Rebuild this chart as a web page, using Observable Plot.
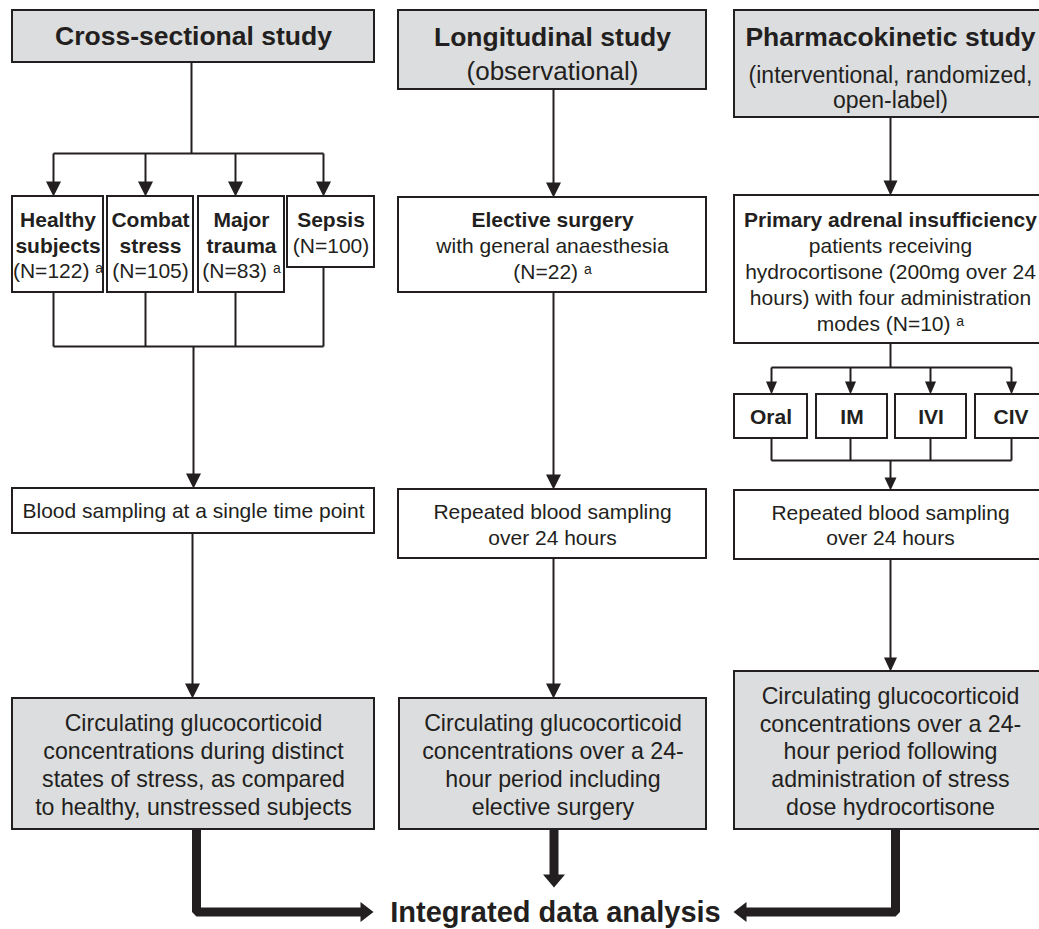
<!DOCTYPE html>
<html><head><meta charset="utf-8">
<script src="https://cdn.jsdelivr.net/npm/d3@7"></script>
<script src="https://cdn.jsdelivr.net/npm/@observablehq/plot@0.6"></script>
<style>body{margin:0;background:#fff}</style>
</head><body><div id="chart"></div>
<script>
// ---------------- content ----------------
const studyTitles = ["Cross-sectional study", "Longitudinal study", "Pharmacokinetic study"];
const studySubtitles = [[], ["(observational)"], ["(interventional, randomized,", "open-label)"]];
const crossGroupNames = [["Healthy", "subjects"], ["Combat", "stress"], ["Major", "trauma"], ["Sepsis"]];
const crossGroupN = [122, 105, 83, 100];
const crossGroupNote = ["a", "", "a", ""];
const electiveTitle = "Elective surgery";
const electiveLines = ["with general anaesthesia"];
const electiveN = 22;
const electiveNote = "a";
const paiTitle = "Primary adrenal insufficiency";
const paiLines = ["patients receiving", "hydrocortisone (200mg over 24", "hours) with four administration"];
const paiLast = "modes (N=10)";
const paiNote = "a";
const adminModes = ["Oral", "IM", "IVI", "CIV"];
const samplingText = [
  ["Blood sampling at a single time point"],
  ["Repeated blood sampling", "over 24 hours"],
  ["Repeated blood sampling", "over 24 hours"]
];
const outcomeText = [
  ["Circulating glucocorticoid", "concentrations during distinct", "states of stress, as compared", "to healthy, unstressed subjects"],
  ["Circulating glucocorticoid", "concentrations over a 24-", "hour period including", "elective surgery"],
  ["Circulating glucocorticoid", "concentrations over a 24-", "hour period following", "administration of stress", "dose hydrocortisone"]
];
const finalLabel = "Integrated data analysis";

// ---------------- layout ----------------
const FONT = "'Liberation Sans', Arial, Helvetica, sans-serif";
const INK = "#231f20";
const GREY = "#dcddde";
const W = 1039, H = 929;

const layout = {
  study: [[12, 10, 374, 62], [398, 10, 706, 89], [734, 10, 1046, 117]],
  studyY: [[36], [37.5, 71], [37, 75, 100]],
  studySubSize: [24, 26, 23],
  group: [[12, 196, 103, 292], [107, 196, 193, 292], [198, 196, 284, 292], [287, 196, 374, 267]],
  groupY: [220, 246, 271],
  elective: [398, 197, 706, 292], electiveY: [220, 246, 272],
  pai: [734, 195, 1046, 343], paiY: [220, 246, 272, 298, 324],
  mode: [[734, 394, 807, 438], [816, 394, 887, 438], [895, 394, 966, 438], [975, 394, 1046, 438]], modeY: 417,
  sampling: [[12, 488, 374, 533], [398, 489, 706, 558], [734, 490, 1046, 559]],
  samplingY: [[510.5], [512, 538], [513, 538]],
  outcome: [[12, 698, 374, 829], [399, 698, 706, 829], [734, 671, 1046, 829]],
  outcomeY: [[723, 751, 779, 807], [723, 751, 779, 807], [696, 724, 751, 779, 807]],
  final: [555, 912]
};
const SIZE = {title: 26.5, body: 21, outcome: 23.2, sup: 14, final: 29};

// ---------------- build ----------------
const ctx = document.createElement("canvas").getContext("2d");
function measure(t, size, weight) { ctx.font = `${weight} ${size}px ${FONT}`; return ctx.measureText(t).width; }

const greyBoxes = [], whiteBoxes = [];
const rows = []; // text rows
const cx = r => (r[0] + r[2]) / 2;
function box(r, grey) { (grey ? greyBoxes : whiteBoxes).push({x1: r[0], y1: r[1], x2: r[2], y2: r[3]}); }
function line(x, y, text, size, weight, note) {
  if (!note) { rows.push({x, y, text, size, weight, anchor: "middle"}); return; }
  const w1 = measure(text + " ", size, weight), w2 = measure(note, SIZE.sup, "normal");
  const start = x - (w1 + w2) / 2;
  rows.push({x: start, y, text, size, weight, anchor: "start"});
  rows.push({x: start + w1, y: y + 0.32 * size - 5.5 - 0.32 * SIZE.sup, text: note, size: SIZE.sup, weight: "normal", anchor: "start"});
}

studyTitles.forEach((t, i) => {
  const r = layout.study[i]; box(r, true);
  line(cx(r), layout.studyY[i][0], t, SIZE.title, "bold");
  studySubtitles[i].forEach((s, j) => line(cx(r), layout.studyY[i][j + 1], s, layout.studySubSize[i], "normal"));
});
crossGroupNames.forEach((names, i) => {
  const r = layout.group[i]; box(r, false);
  names.forEach((n, j) => line(cx(r), layout.groupY[j], n, SIZE.body, "bold"));
  line(cx(r), layout.groupY[names.length], `(N=${crossGroupN[i]})`, SIZE.body, "normal", crossGroupNote[i]);
});
{
  const r = layout.elective; box(r, false);
  line(cx(r), layout.electiveY[0], electiveTitle, SIZE.body, "bold");
  electiveLines.forEach((s, j) => line(cx(r), layout.electiveY[j + 1], s, SIZE.body, "normal"));
  line(cx(r), layout.electiveY[electiveLines.length + 1], `(N=${electiveN})`, SIZE.body, "normal", electiveNote);
}
{
  const r = layout.pai; box(r, false);
  line(cx(r), layout.paiY[0], paiTitle, SIZE.body, "bold");
  paiLines.forEach((s, j) => line(cx(r), layout.paiY[j + 1], s, SIZE.body, "normal"));
  line(cx(r), layout.paiY[paiLines.length + 1], paiLast, SIZE.body, "normal", paiNote);
}
adminModes.forEach((m, i) => { const r = layout.mode[i]; box(r, false); line(cx(r), layout.modeY, m, SIZE.body, "bold"); });
samplingText.forEach((ls, i) => { const r = layout.sampling[i]; box(r, false); ls.forEach((s, j) => line(cx(r), layout.samplingY[i][j], s, SIZE.body, "normal")); });
outcomeText.forEach((ls, i) => { const r = layout.outcome[i]; box(r, true); ls.forEach((s, j) => line(cx(r), layout.outcomeY[i][j], s, SIZE.outcome, "normal")); });
rows.push({x: layout.final[0], y: layout.final[1], text: finalLabel, size: SIZE.final, weight: "bold", anchor: "middle"});

// connectors
const segments = [
  [191, 62, 191, 153], [53, 153, 323, 153],
  [53, 292, 53, 346], [145, 292, 145, 346], [235, 292, 235, 346], [323, 267, 323, 346], [53, 346, 323, 346],
  [890, 343, 890, 367], [771, 367, 1011, 367],
  [771, 438, 771, 460], [850, 438, 850, 460], [930, 438, 930, 460], [1011, 438, 1011, 460], [771, 460, 1011, 460]
].map(([x1, y1, x2, y2]) => ({x1, y1, x2, y2}));

// down arrows: x, start, tip, head width, head length
const downArrows = [
  [53, 153, 196, 15, 15], [145, 153, 196, 15, 15], [235, 153, 196, 15, 15], [323, 153, 196, 15, 15],
  [193, 346, 488, 15, 15], [192, 533, 698, 15, 15],
  [553, 89, 197, 15, 15], [553, 292, 489, 15, 15], [553, 558, 698, 15, 15],
  [890, 117, 195, 14, 15],
  [771, 367, 394, 11, 13], [850, 367, 394, 11, 13], [930, 367, 394, 11, 13], [1011, 367, 394, 11, 13],
  [890, 460, 490, 12, 13], [890, 559, 671, 13, 14]
];
const heads = [];
downArrows.forEach(([x, y0, t, hw, hl], i) => {
  segments.push({x1: x, y1: y0, x2: x, y2: t - hl + 1});
  heads.push({id: "d" + i, x: x - hw / 2, y: t - hl}, {id: "d" + i, x: x + hw / 2, y: t - hl}, {id: "d" + i, x, y: t});
});

// thick arrows
const thick = [
  {id: "L", pts: [[196, 829], [196, 911.5], [362, 911.5]], head: {dir: "right", tip: [373, 911.5], w: 20, l: 13}},
  {id: "M", pts: [[553.5, 829], [553.5, 875]], head: {dir: "down", tip: [553.5, 887], w: 22, l: 13}},
  {id: "R", pts: [[895, 829], [895, 911.5], [745, 911.5]], head: {dir: "left", tip: [733, 911.5], w: 20, l: 13}}
];
const thickPts = [];
thick.forEach(a => {
  a.pts.forEach(([x, y]) => thickPts.push({id: a.id, x, y}));
  const [tx, ty] = a.head.tip, w = a.head.w / 2, l = a.head.l, id = "t" + a.id;
  if (a.head.dir === "right") heads.push({id, x: tx - l, y: ty - w}, {id, x: tx - l, y: ty + w}, {id, x: tx, y: ty});
  if (a.head.dir === "left") heads.push({id, x: tx + l, y: ty - w}, {id, x: tx + l, y: ty + w}, {id, x: tx, y: ty});
  if (a.head.dir === "down") heads.push({id, x: tx - w, y: ty - l}, {id, x: tx + w, y: ty - l}, {id, x: tx, y: ty});
});

const textMark = (weight, anchor) => Plot.text(rows.filter(r => r.weight === weight && r.anchor === anchor), {
  x: "x", y: "y", text: "text", fontSize: "size", fontWeight: weight, textAnchor: anchor, lineAnchor: "middle", fill: INK
});

const chart = Plot.plot({
  width: W, height: H, margin: 0,
  x: {domain: [0, W], range: [0, W], axis: null},
  y: {domain: [0, H], range: [0, H], axis: null},
  style: {fontFamily: FONT, background: "white", overflow: "hidden"},
  marks: [
    Plot.rect(greyBoxes, {x1: "x1", y1: "y1", x2: "x2", y2: "y2", fill: GREY, stroke: INK, strokeWidth: 2}),
    Plot.rect(whiteBoxes, {x1: "x1", y1: "y1", x2: "x2", y2: "y2", fill: "white", stroke: INK, strokeWidth: 2}),
    Plot.link(segments, {x1: "x1", y1: "y1", x2: "x2", y2: "y2", stroke: INK, strokeWidth: 2}),
    Plot.line(thickPts, {x: "x", y: "y", z: "id", stroke: INK, strokeWidth: 9, strokeLinejoin: "miter", strokeLinecap: "butt"}),
    Plot.line(heads, {x: "x", y: "y", z: "id", fill: INK, stroke: "none", curve: "linear-closed"}),
    textMark("bold", "middle"),
    textMark("normal", "middle"),
    textMark("bold", "start"),
    textMark("normal", "start")
  ]
});
document.getElementById("chart").appendChild(chart);
</script>
</body></html>
